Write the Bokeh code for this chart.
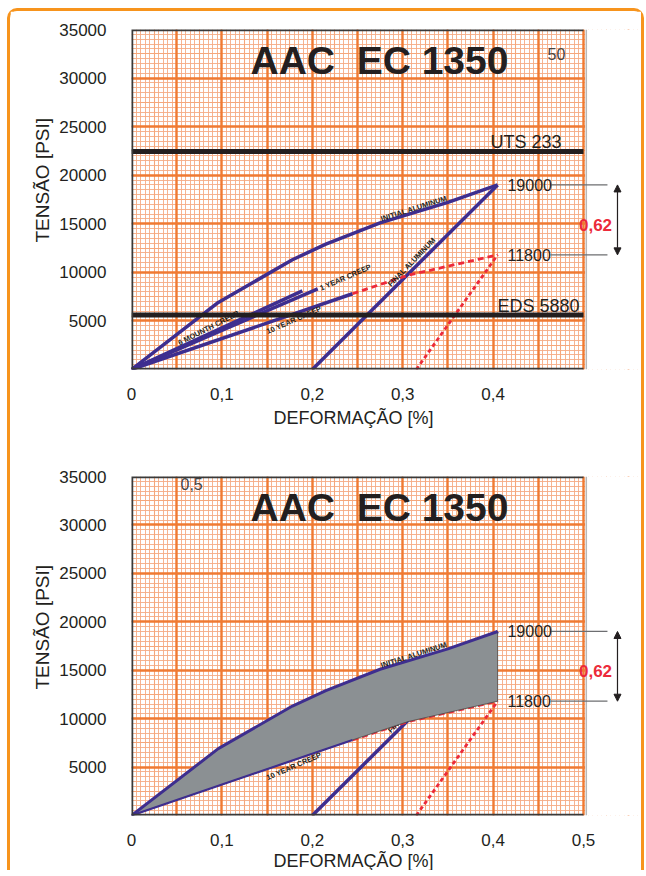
import numpy as np
from bokeh.plotting import figure
from bokeh.models import Range1d, FixedTicker, SingleIntervalTicker, Grid, Title, Arrow, NormalHead
from bokeh.layouts import column
from bokeh.core.properties import value
from bokeh.embed import file_html
from bokeh.resources import INLINE

# ---------------- data ----------------
x_ticks_top = [0, 0.1, 0.2, 0.3, 0.4]
x_ticks_bottom = [0, 0.1, 0.2, 0.3, 0.4, 0.5]
x_tick_labels = ["0", "0,1", "0,2", "0,3", "0,4", "0,5"]
y_ticks = [5000, 10000, 15000, 20000, 25000, 30000, 35000]

initial_x = [0.0, 0.096, 0.178, 0.215, 0.275, 0.350, 0.405]
initial_y = [0, 6900, 11300, 12900, 15100, 17200, 19000]
final_x = [0.200, 0.405]
final_y = [0, 19000]
creep_6m_x = [0.0, 0.189]
creep_6m_y = [0, 8100]
creep_1y_x = [0.0, 0.206]
creep_1y_y = [0, 8300]
creep_10y_x = [0.0, 0.2445]
creep_10y_y = [0, 7800]
creep_ext_x = [0.2445, 0.306, 0.405]
creep_ext_y = [7800, 9700, 11800]
unload_x = [0.315, 0.405]
unload_y = [0, 11800]

uts_value = 22450
eds_value = 5600
uts_label = "UTS 233"
eds_label = "EDS 5880"
stress_initial = 19000
stress_final = 11800
strain_diff_label = "0,62"

curve_labels = ["INITIAL ALUMINUM", "FINAL ALUMINUM", "1 YEAR CREEP",
                "10 YEAR CREEP", "6 MOUNTH CREEP"]
curve_label_x = [0.3125, 0.310, 0.2367, 0.1797, 0.0852]
curve_label_y = [16574, 11066, 9471, 5096, 4272]
curve_label_angle = [0.31, 0.80, 0.41, 0.41, 0.47]

chart_title = "AAC\u00a0 EC 1350"
x_title = "DEFORMAÇÃO [%]"
y_title = "TENSÃO [PSI]"

# ---------------- style / geometry ----------------
FONT = "Liberation Sans"
INK = "#231F20"
BLUE = "#3E2E8F"
RED = "#EC2A3A"
GRAY_FILL = "#8B9093"
MAJ = "#F07A32"
MED = "#F5A77B"
FINE = "#F5AC84"
FRAME_ORANGE = "#F7941D"

X_PAPER = 0.5
Y_MAX = 35000
PAPER_W = 452
FRAME_W = 510
X_END = X_PAPER * FRAME_W / PAPER_W
PX = X_PAPER / PAPER_W  # data units per pixel in x

ARROW_X = 0.5376
LEADER_X0 = 0.4635
LEADER_X1 = 0.5265
VALUE_LABEL_X = 0.4159
DIFF_LABEL_X = 0.5133
LINE_LABEL_RISE = 950


def make_panel(frame_h, top_b, bottom_b, x_ticks, title_standoff, y_title_offset):
    p = figure(frame_width=FRAME_W, frame_height=frame_h,
               x_range=Range1d(0, X_END), y_range=Range1d(0, Y_MAX),
               output_backend="svg", toolbar_location=None,
               min_border_left=121, min_border_right=0,
               min_border_top=top_b, min_border_bottom=bottom_b,
               background_fill_color="white", border_fill_color="white",
               outline_line_color=None)
    p.xgrid.visible = False
    p.ygrid.visible = False
    for dim, iv, col, w in [(0, 0.005, FINE, 0.9), (1, 500, FINE, 0.9),
                            (0, 0.025, MED, 1.1), (1, 2500, MED, 1.1),
                            (0, 0.05, MAJ, 2.4), (1, 5000, MAJ, 2.4)]:
        p.add_layout(Grid(dimension=dim, ticker=SingleIntervalTicker(interval=iv),
                          grid_line_color=col, grid_line_width=w))

    p.xaxis.ticker = FixedTicker(ticks=x_ticks)
    p.xaxis.major_label_overrides = {t: x_tick_labels[i] for i, t in enumerate(x_ticks)}
    p.yaxis.ticker = FixedTicker(ticks=y_ticks)
    for ax, std in [(p.xaxis, 12), (p.yaxis, 19)]:
        ax.axis_line_color = None
        ax.major_tick_line_color = None
        ax.minor_tick_line_color = None
        ax.major_label_text_font = FONT
        ax.major_label_text_font_size = "17px"
        ax.major_label_text_color = INK
        ax.major_label_standoff = std

    p.add_layout(Title(text=x_title, align="left", offset=142, standoff=title_standoff,
                       text_font=FONT, text_font_size="18px", text_font_style="normal",
                       text_color=INK), "below")
    p.add_layout(Title(text=y_title, align="left", offset=y_title_offset, standoff=8,
                       text_font=FONT, text_font_size="19px", text_font_style="normal",
                       text_color=INK), "left")

    # white margin to the right of the graph paper
    p.quad(left=[X_PAPER + 1.6 * PX], right=[X_END], bottom=[0], top=[Y_MAX],
           fill_color="white", line_color=None)
    p.segment(x0=[X_PAPER + 2.8 * PX], x1=[X_PAPER + 2.8 * PX], y0=[0], y1=[Y_MAX],
              line_color="#B8B8B8", line_width=1.5)
    return p


def add_frame(p):
    p.line(x=[X_PAPER, 0, 0, X_PAPER], y=[Y_MAX, Y_MAX, 0, 0],
           line_color="#3A3A3A", line_width=3.5)


def add_values(p):
    p.segment(x0=[LEADER_X0, LEADER_X0], x1=[LEADER_X1, LEADER_X1],
              y0=[stress_initial, stress_final], y1=[stress_initial, stress_final],
              line_color="#6D6E71", line_width=1.2)
    p.text(x=[VALUE_LABEL_X, VALUE_LABEL_X], y=[stress_initial, stress_final],
           text=[str(stress_initial), str(stress_final)],
           text_font=value(FONT), text_font_size="16px", text_color=INK,
           text_align="left", text_baseline="middle")
    p.add_layout(Arrow(x_start=ARROW_X, y_start=stress_final, x_end=ARROW_X, y_end=stress_initial,
                       line_color=INK, line_width=1.2,
                       start=NormalHead(size=7, fill_color=INK, line_color=INK, line_width=1),
                       end=NormalHead(size=7, fill_color=INK, line_color=INK, line_width=1)))
    p.text(x=[DIFF_LABEL_X], y=[(stress_initial + stress_final) / 2 - 500], text=[strain_diff_label],
           text_font=value(FONT), text_font_size="17px", text_font_style="bold",
           text_color=RED, text_align="center", text_baseline="middle")


def add_title(p):
    p.text(x=[0.1316], y=[31800], text=[chart_title], text_font=value(FONT),
           text_font_size="39px", text_font_style="bold", text_color=INK,
           text_align="left", text_baseline="middle")


def add_curve_labels(p, idx):
    p.text(x=[curve_label_x[i] for i in idx], y=[curve_label_y[i] for i in idx],
           text=[curve_labels[i] for i in idx], angle=[curve_label_angle[i] for i in idx],
           text_font=value(FONT), text_font_size="7.5px", text_font_style="bold",
           text_color=INK, text_align="center", text_baseline="middle")


# ---------------- top panel ----------------
p1 = make_panel(340, 18, 71, x_ticks_top, 6, 127)
for xs, ys in [(initial_x, initial_y), (final_x, final_y), (creep_6m_x, creep_6m_y),
               (creep_1y_x, creep_1y_y), (creep_10y_x, creep_10y_y)]:
    p1.line(xs, ys, line_color=BLUE, line_width=3.5)
p1.line(creep_ext_x, creep_ext_y, line_color=RED, line_width=2.8, line_dash="6 4")
p1.line(unload_x, unload_y, line_color=RED, line_width=2.8, line_dash="4 3")
add_curve_labels(p1, [0, 1, 2, 3, 4])
p1.segment(x0=[0, 0], x1=[X_PAPER, X_PAPER], y0=[uts_value, eds_value], y1=[uts_value, eds_value],
           line_color=INK, line_width=5)
p1.text(x=[0.3971, 0.4049], y=[uts_value + LINE_LABEL_RISE, eds_value + LINE_LABEL_RISE],
        text=[uts_label, eds_label],
        text_font=value(FONT), text_font_size="18px", text_color=INK,
        text_align="left", text_baseline="middle")
add_values(p1)
add_title(p1)
p1.text(x=[0.4602], y=[32430], text=["50"], text_font=value(FONT), text_font_size="16px",
        text_color="#444444", text_align="left", text_baseline="middle")
add_frame(p1)

# ---------------- bottom panel ----------------
p2 = make_panel(339, 36, 53, x_ticks_bottom, 0, 126)
p2.line(final_x, final_y, line_color=BLUE, line_width=3.5)
p2.line(creep_ext_x, creep_ext_y, line_color=RED, line_width=2.8, line_dash="6 4")
p2.line(unload_x, unload_y, line_color=RED, line_width=2.8, line_dash="4 3")
add_curve_labels(p2, [1])
band_x = initial_x + creep_ext_x[::-1] + creep_10y_x[::-1][1:]
band_y = initial_y + creep_ext_y[::-1] + creep_10y_y[::-1][1:]
p2.patch(band_x, band_y, fill_color=GRAY_FILL, line_color="#4A4A4A", line_width=0.8)
p2.line(initial_x, initial_y, line_color=BLUE, line_width=3)
p2.line(creep_10y_x, creep_10y_y, line_color=BLUE, line_width=2.2)
add_curve_labels(p2, [0, 3])
add_values(p2)
add_title(p2)
p2.text(x=[0.0542], y=[34226], text=["0,5"], text_font=value(FONT), text_font_size="16px",
        text_color="#444444", text_align="left", text_baseline="middle")
add_frame(p2)

layout = column(p1, p2, styles={
    "margin-left": "7px",
    "margin-top": "8px",
    "border-top": f"3px solid {FRAME_ORANGE}",
    "border-left": f"3px solid {FRAME_ORANGE}",
    "border-right": f"3px solid {FRAME_ORANGE}",
    "border-radius": "10px 10px 0 0",
    "background": "white",
})

open("out.html", "w").write(file_html(layout, INLINE))
